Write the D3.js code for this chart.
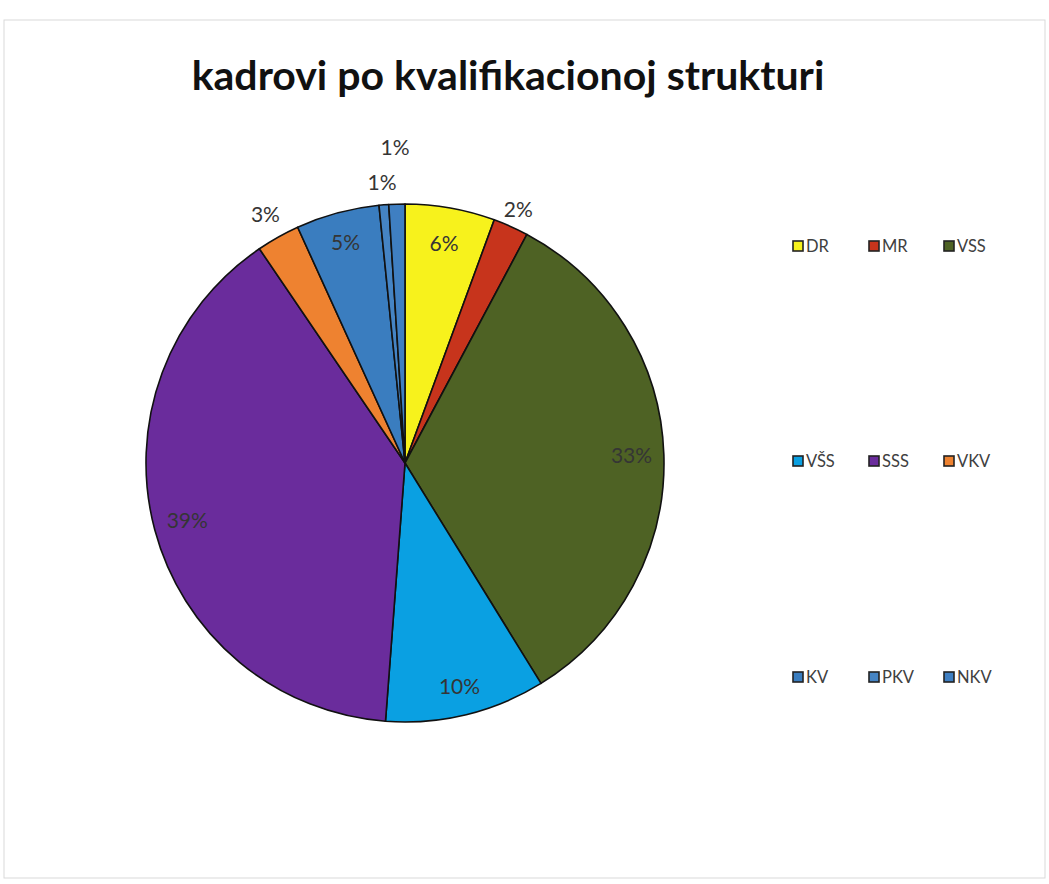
<!DOCTYPE html>
<html>
<head>
<meta charset="utf-8">
<script src="https://cdn.jsdelivr.net/npm/d3@7"></script>
<style>
  html, body { margin: 0; padding: 0; background: #fff; }
  svg { display: block; }
</style>
</head>
<body>
<svg id="chart" width="1049" height="884"></svg>
<script>
// ---- data ----
const title = "kadrovi po kvalifikacionoj strukturi";
const categories = ["DR", "MR", "VSS", "VŠS", "SSS", "VKV", "KV", "PKV", "NKV"];
const values = [5.6, 2.2, 33.4, 10.0, 39.3, 2.7, 5.2, 0.6, 1.0];
const labels = ["6%", "2%", "33%", "10%", "39%", "3%", "5%", "1%", "1%"];

// ---- styles ----
const colors = ["#f7f21c", "#c7341c", "#4e6224", "#0aa0e2", "#6a2c9c", "#ee8230", "#3a7dbf", "#4584c4", "#3f7fc2"];
const labelRadiusFactor = [0.86, 1.07, 0.875, 0.89, 0.87, 1.10, 0.88, 1.085, 1.22];

const svg = d3.select("#chart");
const W = 1049, H = 884;

// chart frame
svg.append("rect").attr("x", 4).attr("y", 20).attr("width", W - 8).attr("height", H - 26)
  .attr("fill", "#fff").attr("stroke", "#d9d9d9").attr("stroke-width", 1);

svg.append("text")
  .attr("x", 508).attr("y", 90)
  .attr("text-anchor", "middle")
  .attr("font-family", "Lato, 'Open Sans', sans-serif")
  .attr("font-weight", "bold")
  .attr("font-size", 41)
  .attr("fill", "#111")
  .text(title);

const cx = 405, cy = 463, R = 259;
const data = categories.map((c, i) => ({ cat: c, value: values[i], label: labels[i], i }));

const pie = d3.pie().sort(null).value(d => d.value);
const arcs = pie(data);
const arc = d3.arc().innerRadius(0).outerRadius(R);

const g = svg.append("g").attr("transform", `translate(${cx},${cy})`);
g.selectAll("path.slice").data(arcs).enter().append("path")
  .attr("class", "slice")
  .attr("d", arc)
  .attr("fill", d => colors[d.data.i])
  .attr("stroke", "#111")
  .attr("stroke-width", 1.6)
  .attr("stroke-linejoin", "round");

g.selectAll("text.lbl").data(arcs).enter().append("text")
  .attr("class", "lbl")
  .attr("transform", d => {
    const a = (d.startAngle + d.endAngle) / 2;
    const r = R * labelRadiusFactor[d.data.i];
    return `translate(${r * Math.sin(a)},${-r * Math.cos(a)})`;
  })
  .attr("text-anchor", "middle")
  .attr("dy", "0.35em")
  .attr("font-family", "Lato, 'Open Sans', sans-serif")
  .attr("font-size", 21)
  .attr("fill", "#353535")
  .text(d => d.data.label);

// legend: 3 rows x 3 columns
const colX = d3.scaleOrdinal().domain([0, 1, 2]).range([793, 869, 944]);
const rowY = d3.scaleOrdinal().domain([0, 1, 2]).range([246, 461, 677]);
const leg = svg.append("g");
const items = leg.selectAll("g.item").data(data).enter().append("g")
  .attr("class", "item")
  .attr("transform", d => `translate(${colX(d.i % 3)},${rowY(Math.floor(d.i / 3))})`);
items.append("rect")
  .attr("x", 0).attr("y", -5).attr("width", 10).attr("height", 10)
  .attr("fill", d => colors[d.i])
  .attr("stroke", "#222").attr("stroke-width", 1.6);
items.append("text")
  .attr("x", 13).attr("y", 0).attr("dy", "0.36em")
  .attr("font-family", "Lato, 'Open Sans', sans-serif")
  .attr("font-size", 16.5)
  .attr("fill", "#404040")
  .text(d => d.cat);
</script>
</body>
</html>
